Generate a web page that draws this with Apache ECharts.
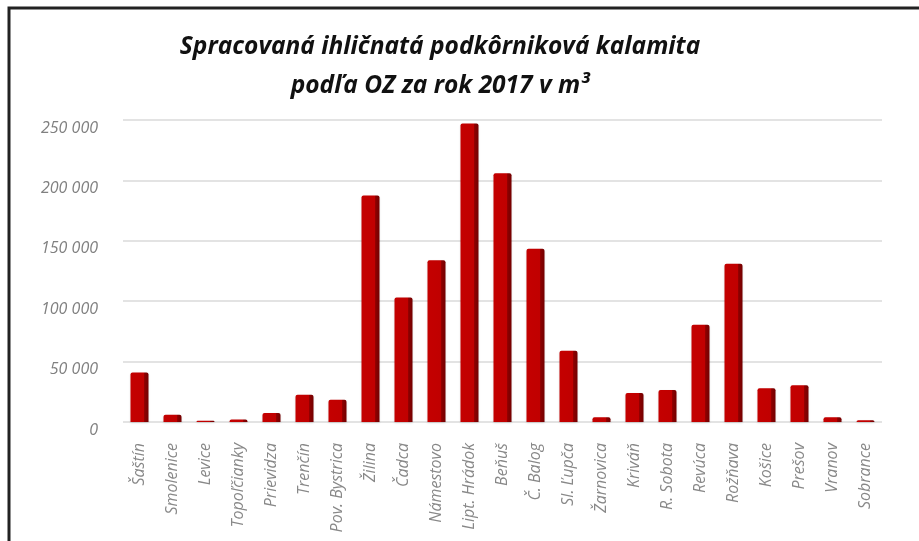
<!DOCTYPE html>
<html>
<head>
<meta charset="utf-8">
<script src="https://cdn.jsdelivr.net/npm/echarts@6/dist/echarts.min.js"></script>
<style>
	html, body { margin: 0; padding: 0; background: #fff; }
	#chart { width: 919px; height: 541px; }
</style>
</head>
<body>
<div id="chart"></div>
<script>
	// odštepné závody (OZ)
	var categories = ['Šaštín', 'Smolenice', 'Levice', 'Topoľčianky', 'Prievidza', 'Trenčín', 'Pov. Bystrica',
		'Žilina', 'Čadca', 'Námestovo', 'Lipt. Hrádok', 'Beňuš', 'Č. Balog', 'Sl. Ľupča', 'Žarnovica',
		'Kriváň', 'R. Sobota', 'Revúca', 'Rožňava', 'Košice', 'Prešov', 'Vranov', 'Sobrance'];

	// spracovaná kalamita v m3 (odčítané z grafu)
	var values = [41000, 6000, 1000, 2000, 7500, 22500, 18500,
		187500, 103000, 134000, 247000, 206000, 143500, 59000, 4000,
		24000, 26500, 80500, 131000, 28000, 30500, 4000, 1500];

	var yTicks = [0, 50000, 100000, 150000, 200000, 250000];

	var chart = echarts.init(document.getElementById('chart'));

	// 3D vzhľad stĺpca - tmavší pravý bok
	var barColor = new echarts.graphic.LinearGradient(0, 0, 1, 0, [
		{ offset: 0, color: '#c40000' },
		{ offset: 0.76, color: '#c00000' },
		{ offset: 0.78, color: '#8c0000' },
		{ offset: 1, color: '#740000' }
	]);

	var option = {
		animation: false,
		title: {
			text: 'Spracovaná ihličnatá podkôrniková kalamita\npodľa OZ za rok 2017 v m³',
			left: 435,
			top: 23,
			textAlign: 'center',
			textStyle: {
				fontFamily: 'Open Sans',
				fontStyle: 'italic',
				fontWeight: 'bold',
				fontSize: 24.5,
				lineHeight: 39,
				color: '#111'
			}
		},
		grid: {
			left: 123,
			right: 37,
			top: 120,
			bottom: 119
		},
		xAxis: {
			type: 'category',
			data: categories,
			axisLine: { show: false },
			axisTick: { show: false },
			axisLabel: {
				rotate: 90,
				margin: 21,
				interval: 0,
				fontFamily: 'Open Sans',
				fontStyle: 'italic',
				fontSize: 16,
				color: '#888'
			}
		},
		yAxis: {
			type: 'value',
			min: yTicks[0],
			max: yTicks[yTicks.length - 1],
			interval: 50000,
			axisLine: { show: false },
			axisTick: { show: false },
			splitLine: {
				lineStyle: { color: '#dadada', width: 1.5 }
			},
			axisLabel: {
				margin: 25,
				verticalAlign: 'top',
				fontFamily: 'Open Sans',
				fontStyle: 'italic',
				fontSize: 16,
				color: '#808080',
				formatter: function(v) {
					return v === 0 ? '0' : String(v).replace(/\B(?=(\d{3})+(?!\d))/g, ' ');
				}
			}
		},
		series: [{
			type: 'bar',
			data: values,
			barWidth: 18,
			itemStyle: {
				color: barColor,
				borderRadius: [2, 2, 0, 0],
				shadowColor: 'rgba(0,0,0,0.15)',
				shadowBlur: 2,
				shadowOffsetY: 1
			}
		}],
		graphic: [{
			type: 'polyline',
			shape: { points: [[9, 541], [9, 8], [919, 8]] },
			style: { stroke: '#222', lineWidth: 3, fill: null },
			silent: true
		}]
	};

	chart.setOption(option);
</script>
</body>
</html>
